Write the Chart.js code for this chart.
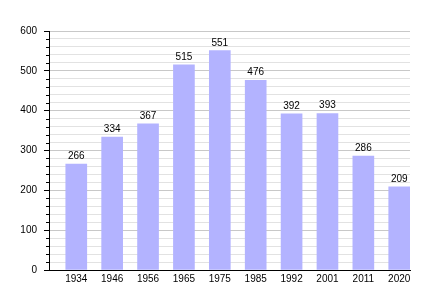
<!DOCTYPE html>
<html>
<head>
<meta charset="UTF-8">
<title>Population</title>
<script src="https://cdn.jsdelivr.net/npm/chart.js"></script>
<style>
  html, body { margin: 0; padding: 0; background: #fff; }
  canvas { display: block; }
</style>
</head>
<body>
<canvas id="chart" width="440" height="300"></canvas>
<script>
// données
const years = ['1934', '1946', '1956', '1965', '1975', '1985', '1992', '2001', '2011', '2020'];
const population = [266, 334, 367, 515, 551, 476, 392, 393, 286, 209];
const yTicks = [0, 100, 200, 300, 400, 500, 600];

const font = { family: "'Liberation Sans', Arial, sans-serif", size: 10 };

// valeurs au-dessus des barres + petites graduations
const extras = {
  id: 'extras',
  afterDatasetsDraw(chart) {
    const ctx = chart.ctx;
    const meta = chart.getDatasetMeta(0);
    ctx.save();
    ctx.font = '10px ' + font.family;
    ctx.fillStyle = '#000';
    ctx.textAlign = 'center';
    ctx.textBaseline = 'alphabetic';
    meta.data.forEach((bar, i) => {
      ctx.fillText(population[i], bar.x, bar.y - 5);
    });
    // graduations mineures
    const y = chart.scales.y;
    ctx.strokeStyle = '#000';
    ctx.lineWidth = 1;
    ctx.beginPath();
    for (let v = 20; v < 600; v += 20) {
      if (v % 100 === 0) continue;
      const py = Math.round(y.getPixelForValue(v)) + 0.5;
      ctx.moveTo(chart.chartArea.left - 3, py);
      ctx.lineTo(chart.chartArea.left, py);
    }
    ctx.stroke();
    ctx.restore();
  }
};

new Chart(document.getElementById('chart'), {
  type: 'bar',
  data: {
    datasets: [{
      data: population.map((v, i) => ({ x: i, y: v })),
      backgroundColor: '#b3b3ff',
      borderWidth: 0,
      barThickness: 21
    }]
  },
  options: {
    responsive: false,
    animation: false,
    layout: { padding: { top: 31, right: 30, left: 0, bottom: 0 } },
    plugins: { legend: { display: false }, tooltip: { enabled: false } },
    scales: {
      x: {
        type: 'linear',
        offset: false,
        min: -0.76,
        max: 9.3,
        afterFit: (s) => { s.height = 30; },
        afterBuildTicks: (s) => { s.ticks = years.map((_, i) => ({ value: i })); },
        grid: { display: false, drawTicks: false },
        border: { display: true, color: '#000', width: 1 },
        ticks: {
          autoSkip: false,
          maxRotation: 0,
          padding: 3,
          color: '#000',
          font: font,
          callback: (v) => years[v]
        }
      },
      y: {
        min: 0,
        max: 600,
        afterFit: (s) => { s.width = 49; },
        afterBuildTicks: (s) => {
          const t = [];
          for (let v = 0; v <= 600; v += 20) t.push({ value: v });
          s.ticks = t;
        },
        grid: {
          color: (c) => (c.tick && c.tick.value % 100 === 0) ? '#c8c8c8' : '#e2e2e2',
          tickLength: 5,
          tickColor: (c) => (c.tick && c.tick.value % 100 === 0) ? '#000' : 'rgba(0,0,0,0)'
        },
        border: { display: true, color: '#000', width: 1 },
        ticks: {
          padding: 7,
          color: '#000',
          font: font,
          autoSkip: false,
          callback: (v) => yTicks.includes(v) ? v : ''
        }
      }
    }
  },
  plugins: [extras]
});
</script>
</body>
</html>
